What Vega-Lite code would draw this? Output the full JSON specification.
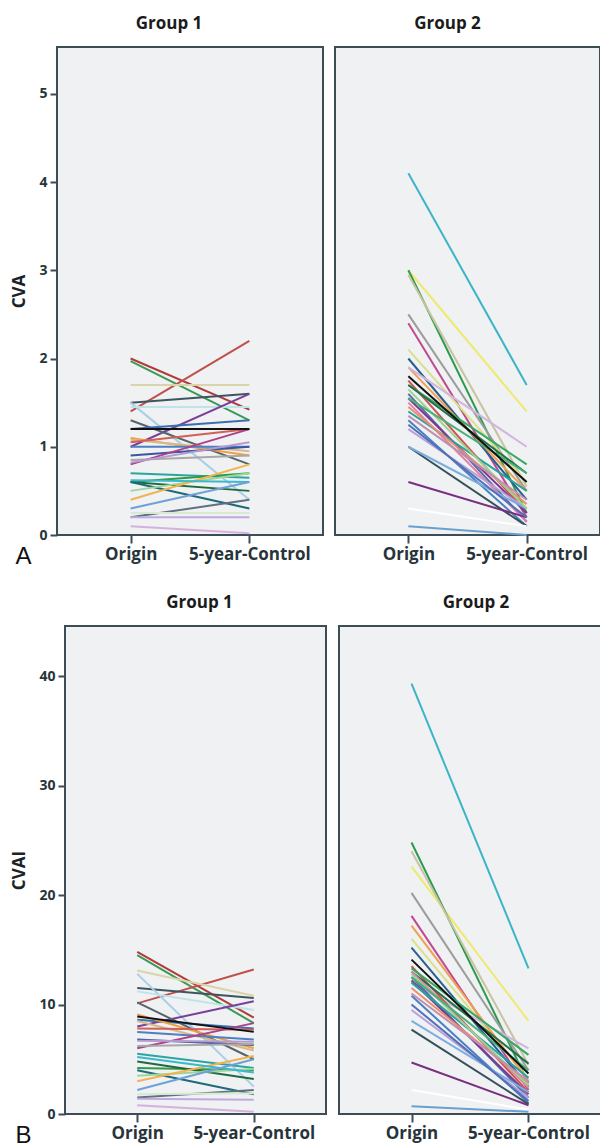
{
  "$schema": "https://vega.github.io/schema/vega-lite/v6.json",
  "background": "white",
  "padding": {"left": 0, "top": 14, "right": 0, "bottom": 0},
  "config": {
    "view": {"fill": "#eff1f2", "stroke": "#3d4d55", "strokeWidth": 2},
    "axis": {"grid": false, "domain": false, "tickColor": "#3d4d55", "tickWidth": 2, "labelColor": "#27343a", "labelFont": "Open Sans", "labelFontWeight": "bold", "titleFont": "Open Sans", "titleFontWeight": "bold", "titleColor": "#1b2328"},
    "axisX": {"labelFontSize": 17, "labelAngle": 0, "tickSize": 8, "labelPadding": 3},
    "axisY": {"labelFontSize": 14, "labelPadding": 3, "tickSize": 7, "titleFontSize": 17},
    "title": {"font": "Open Sans", "fontSize": 17, "fontWeight": "bold", "color": "#1b1b1b", "offset": 14, "baseline": "alphabetic", "frame": "group", "anchor": "middle"},
    "line": {"strokeWidth": 2}
  },
  "datasets": {
    "s": [
      {"g":1,"id":"a01","t":"Origin","cva":2.0,"cvai":14.8},{"g":1,"id":"a01","t":"5-year-Control","cva":1.42,"cvai":8.8},
      {"g":1,"id":"a02","t":"Origin","cva":1.97,"cvai":14.5},{"g":1,"id":"a02","t":"5-year-Control","cva":1.3,"cvai":8.3},
      {"g":1,"id":"a03","t":"Origin","cva":1.4,"cvai":10.1},{"g":1,"id":"a03","t":"5-year-Control","cva":2.2,"cvai":13.2},
      {"g":1,"id":"a04","t":"Origin","cva":1.7,"cvai":13.1},{"g":1,"id":"a04","t":"5-year-Control","cva":1.7,"cvai":10.8},
      {"g":1,"id":"a05","t":"Origin","cva":1.5,"cvai":11.5},{"g":1,"id":"a05","t":"5-year-Control","cva":1.6,"cvai":10.6},
      {"g":1,"id":"a06","t":"Origin","cva":1.5,"cvai":12.8},{"g":1,"id":"a06","t":"5-year-Control","cva":0.4,"cvai":2.5},
      {"g":1,"id":"a07","t":"Origin","cva":1.45,"cvai":11.2},{"g":1,"id":"a07","t":"5-year-Control","cva":1.45,"cvai":9.5},
      {"g":1,"id":"a08","t":"Origin","cva":1.0,"cvai":8.0},{"g":1,"id":"a08","t":"5-year-Control","cva":1.6,"cvai":10.3},
      {"g":1,"id":"a09","t":"Origin","cva":1.3,"cvai":10.2},{"g":1,"id":"a09","t":"5-year-Control","cva":0.8,"cvai":5.0},
      {"g":1,"id":"a11","t":"Origin","cva":1.2,"cvai":8.6},{"g":1,"id":"a11","t":"5-year-Control","cva":1.3,"cvai":7.8},
      {"g":1,"id":"a12","t":"Origin","cva":1.1,"cvai":9.1},{"g":1,"id":"a12","t":"5-year-Control","cva":0.9,"cvai":6.0},
      {"g":1,"id":"a13","t":"Origin","cva":1.08,"cvai":8.5},{"g":1,"id":"a13","t":"5-year-Control","cva":0.95,"cvai":5.8},
      {"g":1,"id":"a14","t":"Origin","cva":1.05,"cvai":7.8},{"g":1,"id":"a14","t":"5-year-Control","cva":1.2,"cvai":7.7},
      {"g":1,"id":"a15","t":"Origin","cva":1.0,"cvai":7.5},{"g":1,"id":"a15","t":"5-year-Control","cva":1.0,"cvai":6.8},
      {"g":1,"id":"a16","t":"Origin","cva":0.9,"cvai":6.8},{"g":1,"id":"a16","t":"5-year-Control","cva":1.0,"cvai":6.3},
      {"g":1,"id":"a17","t":"Origin","cva":0.8,"cvai":6.0},{"g":1,"id":"a17","t":"5-year-Control","cva":1.2,"cvai":8.3},
      {"g":1,"id":"a18","t":"Origin","cva":0.85,"cvai":6.2},{"g":1,"id":"a18","t":"5-year-Control","cva":0.9,"cvai":6.4},
      {"g":1,"id":"a19","t":"Origin","cva":0.82,"cvai":6.7},{"g":1,"id":"a19","t":"5-year-Control","cva":1.05,"cvai":6.6},
      {"g":1,"id":"a20","t":"Origin","cva":0.7,"cvai":5.5},{"g":1,"id":"a20","t":"5-year-Control","cva":0.65,"cvai":4.2},
      {"g":1,"id":"a21","t":"Origin","cva":0.6,"cvai":4.2},{"g":1,"id":"a21","t":"5-year-Control","cva":0.7,"cvai":4.0},
      {"g":1,"id":"a22","t":"Origin","cva":0.6,"cvai":4.8},{"g":1,"id":"a22","t":"5-year-Control","cva":0.5,"cvai":3.2},
      {"g":1,"id":"a23","t":"Origin","cva":0.6,"cvai":4.0},{"g":1,"id":"a23","t":"5-year-Control","cva":0.3,"cvai":1.8},
      {"g":1,"id":"a24","t":"Origin","cva":0.5,"cvai":3.5},{"g":1,"id":"a24","t":"5-year-Control","cva":0.7,"cvai":4.1},
      {"g":1,"id":"a25","t":"Origin","cva":0.4,"cvai":3.0},{"g":1,"id":"a25","t":"5-year-Control","cva":0.8,"cvai":5.3},
      {"g":1,"id":"a26","t":"Origin","cva":0.62,"cvai":5.2},{"g":1,"id":"a26","t":"5-year-Control","cva":0.6,"cvai":3.8},
      {"g":1,"id":"a27","t":"Origin","cva":0.3,"cvai":2.2},{"g":1,"id":"a27","t":"5-year-Control","cva":0.6,"cvai":5.0},
      {"g":1,"id":"a28","t":"Origin","cva":0.2,"cvai":1.5},{"g":1,"id":"a28","t":"5-year-Control","cva":0.4,"cvai":2.2},
      {"g":1,"id":"a29","t":"Origin","cva":0.2,"cvai":1.4},{"g":1,"id":"a29","t":"5-year-Control","cva":0.2,"cvai":1.3},
      {"g":1,"id":"a30","t":"Origin","cva":0.25,"cvai":1.8},{"g":1,"id":"a30","t":"5-year-Control","cva":0.25,"cvai":1.9},
      {"g":1,"id":"a31","t":"Origin","cva":0.1,"cvai":0.8},{"g":1,"id":"a31","t":"5-year-Control","cva":0.02,"cvai":0.2},
      {"g":1,"id":"a10","t":"Origin","cva":1.2,"cvai":8.9},{"g":1,"id":"a10","t":"5-year-Control","cva":1.2,"cvai":7.5},
      {"g":2,"id":"b01","t":"Origin","cva":4.1,"cvai":39.3},{"g":2,"id":"b01","t":"5-year-Control","cva":1.7,"cvai":13.3},
      {"g":2,"id":"b02","t":"Origin","cva":3.0,"cvai":22.6},{"g":2,"id":"b02","t":"5-year-Control","cva":1.4,"cvai":8.5},
      {"g":2,"id":"b03","t":"Origin","cva":3.0,"cvai":24.8},{"g":2,"id":"b03","t":"5-year-Control","cva":0.25,"cvai":2.8},
      {"g":2,"id":"b04","t":"Origin","cva":2.95,"cvai":24.0},{"g":2,"id":"b04","t":"5-year-Control","cva":0.55,"cvai":4.5},
      {"g":2,"id":"b05","t":"Origin","cva":2.5,"cvai":20.2},{"g":2,"id":"b05","t":"5-year-Control","cva":0.5,"cvai":4.0},
      {"g":2,"id":"b06","t":"Origin","cva":2.4,"cvai":18.1},{"g":2,"id":"b06","t":"5-year-Control","cva":0.2,"cvai":2.2},
      {"g":2,"id":"b07","t":"Origin","cva":2.1,"cvai":16.0},{"g":2,"id":"b07","t":"5-year-Control","cva":0.6,"cvai":3.2},
      {"g":2,"id":"b08","t":"Origin","cva":2.0,"cvai":15.2},{"g":2,"id":"b08","t":"5-year-Control","cva":0.4,"cvai":2.5},
      {"g":2,"id":"b09","t":"Origin","cva":1.9,"cvai":17.2},{"g":2,"id":"b09","t":"5-year-Control","cva":0.5,"cvai":3.0},
      {"g":2,"id":"b10","t":"Origin","cva":1.9,"cvai":12.0},{"g":2,"id":"b10","t":"5-year-Control","cva":1.0,"cvai":6.0},
      {"g":2,"id":"b12","t":"Origin","cva":1.75,"cvai":13.5},{"g":2,"id":"b12","t":"5-year-Control","cva":0.25,"cvai":2.0},
      {"g":2,"id":"b13","t":"Origin","cva":1.7,"cvai":13.3},{"g":2,"id":"b13","t":"5-year-Control","cva":0.8,"cvai":5.4},
      {"g":2,"id":"b14","t":"Origin","cva":1.7,"cvai":13.0},{"g":2,"id":"b14","t":"5-year-Control","cva":0.7,"cvai":4.6},
      {"g":2,"id":"b15","t":"Origin","cva":1.6,"cvai":12.5},{"g":2,"id":"b15","t":"5-year-Control","cva":0.15,"cvai":1.5},
      {"g":2,"id":"b16","t":"Origin","cva":1.55,"cvai":12.2},{"g":2,"id":"b16","t":"5-year-Control","cva":0.25,"cvai":1.8},
      {"g":2,"id":"b17","t":"Origin","cva":1.5,"cvai":13.0},{"g":2,"id":"b17","t":"5-year-Control","cva":0.15,"cvai":2.4},
      {"g":2,"id":"b18","t":"Origin","cva":1.4,"cvai":12.0},{"g":2,"id":"b18","t":"5-year-Control","cva":0.5,"cvai":3.3},
      {"g":2,"id":"b19","t":"Origin","cva":1.45,"cvai":11.5},{"g":2,"id":"b19","t":"5-year-Control","cva":0.35,"cvai":2.8},
      {"g":2,"id":"b20","t":"Origin","cva":1.3,"cvai":10.8},{"g":2,"id":"b20","t":"5-year-Control","cva":0.1,"cvai":1.0},
      {"g":2,"id":"b21","t":"Origin","cva":1.2,"cvai":9.5},{"g":2,"id":"b21","t":"5-year-Control","cva":0.3,"cvai":1.5},
      {"g":2,"id":"b22","t":"Origin","cva":1.0,"cvai":7.7},{"g":2,"id":"b22","t":"5-year-Control","cva":0.1,"cvai":0.9},
      {"g":2,"id":"b23","t":"Origin","cva":1.0,"cvai":8.5},{"g":2,"id":"b23","t":"5-year-Control","cva":0.3,"cvai":2.0},
      {"g":2,"id":"b24","t":"Origin","cva":0.6,"cvai":4.7},{"g":2,"id":"b24","t":"5-year-Control","cva":0.2,"cvai":0.8},
      {"g":2,"id":"b25","t":"Origin","cva":0.3,"cvai":2.2},{"g":2,"id":"b25","t":"5-year-Control","cva":0.1,"cvai":0.4},
      {"g":2,"id":"b26","t":"Origin","cva":0.1,"cvai":0.7},{"g":2,"id":"b26","t":"5-year-Control","cva":0.0,"cvai":0.2},
      {"g":2,"id":"b27","t":"Origin","cva":1.65,"cvai":12.8},{"g":2,"id":"b27","t":"5-year-Control","cva":0.3,"cvai":2.6},
      {"g":2,"id":"b28","t":"Origin","cva":1.35,"cvai":11.0},{"g":2,"id":"b28","t":"5-year-Control","cva":0.4,"cvai":3.0},
      {"g":2,"id":"b29","t":"Origin","cva":1.55,"cvai":12.5},{"g":2,"id":"b29","t":"5-year-Control","cva":0.7,"cvai":4.0},
      {"g":2,"id":"b30","t":"Origin","cva":1.25,"cvai":10.0},{"g":2,"id":"b30","t":"5-year-Control","cva":0.2,"cvai":1.2},
      {"g":2,"id":"b11","t":"Origin","cva":1.8,"cvai":14.1},{"g":2,"id":"b11","t":"5-year-Control","cva":0.6,"cvai":3.7}
    ]
  },
  "spacing": 24,
  "vconcat": [
    {
      "spacing": 0,
      "hconcat": [
        {"width": 9, "height": 1, "data": {"values": []}, "mark": "point", "view": {"fill": "white", "stroke": null}},
        {
          "spacing": 10,
          "hconcat": [
            {
              "width": 266, "height": 488,
              "data": {"name": "s"},
              "transform": [{"filter": "datum.g == 1"}],
              "title": {"text": "Group 1", "dx": -21},
              "mark": {"type": "line"},
              "encoding": {
                "x": {"field": "t", "type": "nominal", "scale": {"type": "point", "domain": ["Origin", "5-year-Control"], "padding": 0.62},
                      "axis": {"title": "A", "titleAnchor": "start", "titleAlign": "left", "titleX": -42, "titleY": 28, "titleBaseline": "alphabetic", "titleFontSize": 24, "titleFontWeight": "normal", "titleFont": "Liberation Sans", "titleColor": "#111111"}},
                "y": {"field": "cva", "type": "quantitative", "scale": {"domain": [0, 5.53], "nice": false},
                      "axis": {"title": "CVA", "values": [0, 1, 2, 3, 4, 5], "minExtent": 18, "maxExtent": 18, "titlePadding": 11}},
                "color": {"field": "id", "type": "nominal", "legend": null,
                          "scale": {"domain": ["a01","a02","a03","a04","a05","a06","a07","a08","a09","a10","a11","a12","a13","a14","a15","a16","a17","a18","a19","a20","a21","a22","a23","a24","a25","a26","a27","a28","a29","a30","a31","b01","b02","b03","b04","b05","b06","b07","b08","b09","b10","b11","b12","b13","b14","b15","b16","b17","b18","b19","b20","b21","b22","b23","b24","b25","b26","b27","b28","b29","b30"],
                                    "range": ["#b23a3a","#3a9a55","#c0504a","#d8d5a8","#3d5560","#a8cfe8","#bfe3ea","#7b3f9a","#5a6468","#111111","#3a6fb0","#f0a040","#d9b98a","#d0605a","#4d7fc4","#3b55a0","#b0408a","#a8a8a8","#b59ad0","#2aa5a0","#2f9a4a","#1f6b3c","#1d6a7a","#9fd49a","#f2b24e","#3ab8cc","#6fa0d8","#607080","#c0a8e0","#d5ead0","#d8b0e0","#3cb4c8","#eeea70","#2e9a50","#c8c4a0","#9c9c9c","#c04a90","#d8e08a","#27608f","#f0a050","#d2b4e0","#111111","#d05050","#38a860","#1f7048","#5a68a8","#7a3a90","#e080a8","#2aa0a0","#e89070","#4a80c0","#b8a0d8","#34505a","#7aaee0","#7a2e80","#ffffff","#6aa0d0","#9fd090","#c090b0","#48b078","#5070b8"]}}
              }
            },
            {
              "width": 265, "height": 488,
              "data": {"name": "s"},
              "transform": [{"filter": "datum.g == 2"}],
              "title": {"text": "Group 2", "dx": -20},
              "mark": {"type": "line"},
              "encoding": {
                "x": {"field": "t", "type": "nominal", "scale": {"type": "point", "domain": ["Origin", "5-year-Control"], "padding": 0.62}, "axis": {"title": null}},
                "y": {"field": "cva", "type": "quantitative", "scale": {"domain": [0, 5.53], "nice": false}, "axis": null},
                "color": {"field": "id", "type": "nominal", "legend": null,
                          "scale": {"domain": ["a01","a02","a03","a04","a05","a06","a07","a08","a09","a10","a11","a12","a13","a14","a15","a16","a17","a18","a19","a20","a21","a22","a23","a24","a25","a26","a27","a28","a29","a30","a31","b01","b02","b03","b04","b05","b06","b07","b08","b09","b10","b11","b12","b13","b14","b15","b16","b17","b18","b19","b20","b21","b22","b23","b24","b25","b26","b27","b28","b29","b30"],
                                    "range": ["#b23a3a","#3a9a55","#c0504a","#d8d5a8","#3d5560","#a8cfe8","#bfe3ea","#7b3f9a","#5a6468","#111111","#3a6fb0","#f0a040","#d9b98a","#d0605a","#4d7fc4","#3b55a0","#b0408a","#a8a8a8","#b59ad0","#2aa5a0","#2f9a4a","#1f6b3c","#1d6a7a","#9fd49a","#f2b24e","#3ab8cc","#6fa0d8","#607080","#c0a8e0","#d5ead0","#d8b0e0","#3cb4c8","#eeea70","#2e9a50","#c8c4a0","#9c9c9c","#c04a90","#d8e08a","#27608f","#f0a050","#d2b4e0","#111111","#d05050","#38a860","#1f7048","#5a68a8","#7a3a90","#e080a8","#2aa0a0","#e89070","#4a80c0","#b8a0d8","#34505a","#7aaee0","#7a2e80","#ffffff","#6aa0d0","#9fd090","#c090b0","#48b078","#5070b8"]}}
              }
            }
          ]
        }
      ]
    },
    {
      "spacing": 0,
      "hconcat": [
        {"width": 9, "height": 1, "data": {"values": []}, "mark": "point", "view": {"fill": "white", "stroke": null}},
        {
          "spacing": 11,
          "hconcat": [
            {
              "width": 261, "height": 488,
              "data": {"name": "s"},
              "transform": [{"filter": "datum.g == 1"}],
              "title": {"text": "Group 1", "dx": 4},
              "mark": {"type": "line"},
              "encoding": {
                "x": {"field": "t", "type": "nominal", "scale": {"type": "point", "domain": ["Origin", "5-year-Control"], "padding": 0.62},
                      "axis": {"title": "B", "titleAnchor": "start", "titleAlign": "left", "titleX": -50, "titleY": 28, "titleBaseline": "alphabetic", "titleFontSize": 24, "titleFontWeight": "normal", "titleFont": "Liberation Sans", "titleColor": "#111111"}},
                "y": {"field": "cvai", "type": "quantitative", "scale": {"domain": [0, 44.57], "nice": false},
                      "axis": {"title": "CVAI", "values": [0, 10, 20, 30, 40], "minExtent": 26, "maxExtent": 26, "titlePadding": 11}},
                "color": {"field": "id", "type": "nominal", "legend": null,
                          "scale": {"domain": ["a01","a02","a03","a04","a05","a06","a07","a08","a09","a10","a11","a12","a13","a14","a15","a16","a17","a18","a19","a20","a21","a22","a23","a24","a25","a26","a27","a28","a29","a30","a31","b01","b02","b03","b04","b05","b06","b07","b08","b09","b10","b11","b12","b13","b14","b15","b16","b17","b18","b19","b20","b21","b22","b23","b24","b25","b26","b27","b28","b29","b30"],
                                    "range": ["#b23a3a","#3a9a55","#c0504a","#d8d5a8","#3d5560","#a8cfe8","#bfe3ea","#7b3f9a","#5a6468","#111111","#3a6fb0","#f0a040","#d9b98a","#d0605a","#4d7fc4","#3b55a0","#b0408a","#a8a8a8","#b59ad0","#2aa5a0","#2f9a4a","#1f6b3c","#1d6a7a","#9fd49a","#f2b24e","#3ab8cc","#6fa0d8","#607080","#c0a8e0","#d5ead0","#d8b0e0","#3cb4c8","#eeea70","#2e9a50","#c8c4a0","#9c9c9c","#c04a90","#d8e08a","#27608f","#f0a050","#d2b4e0","#111111","#d05050","#38a860","#1f7048","#5a68a8","#7a3a90","#e080a8","#2aa0a0","#e89070","#4a80c0","#b8a0d8","#34505a","#7aaee0","#7a2e80","#ffffff","#6aa0d0","#9fd090","#c090b0","#48b078","#5070b8"]}}
              }
            },
            {
              "width": 262, "height": 488,
              "data": {"name": "s"},
              "transform": [{"filter": "datum.g == 2"}],
              "title": {"text": "Group 2", "dx": 6},
              "mark": {"type": "line"},
              "encoding": {
                "x": {"field": "t", "type": "nominal", "scale": {"type": "point", "domain": ["Origin", "5-year-Control"], "padding": 0.62}, "axis": {"title": null}},
                "y": {"field": "cvai", "type": "quantitative", "scale": {"domain": [0, 44.57], "nice": false}, "axis": null},
                "color": {"field": "id", "type": "nominal", "legend": null,
                          "scale": {"domain": ["a01","a02","a03","a04","a05","a06","a07","a08","a09","a10","a11","a12","a13","a14","a15","a16","a17","a18","a19","a20","a21","a22","a23","a24","a25","a26","a27","a28","a29","a30","a31","b01","b02","b03","b04","b05","b06","b07","b08","b09","b10","b11","b12","b13","b14","b15","b16","b17","b18","b19","b20","b21","b22","b23","b24","b25","b26","b27","b28","b29","b30"],
                                    "range": ["#b23a3a","#3a9a55","#c0504a","#d8d5a8","#3d5560","#a8cfe8","#bfe3ea","#7b3f9a","#5a6468","#111111","#3a6fb0","#f0a040","#d9b98a","#d0605a","#4d7fc4","#3b55a0","#b0408a","#a8a8a8","#b59ad0","#2aa5a0","#2f9a4a","#1f6b3c","#1d6a7a","#9fd49a","#f2b24e","#3ab8cc","#6fa0d8","#607080","#c0a8e0","#d5ead0","#d8b0e0","#3cb4c8","#eeea70","#2e9a50","#c8c4a0","#9c9c9c","#c04a90","#d8e08a","#27608f","#f0a050","#d2b4e0","#111111","#d05050","#38a860","#1f7048","#5a68a8","#7a3a90","#e080a8","#2aa0a0","#e89070","#4a80c0","#b8a0d8","#34505a","#7aaee0","#7a2e80","#ffffff","#6aa0d0","#9fd090","#c090b0","#48b078","#5070b8"]}}
              }
            }
          ]
        }
      ]
    }
  ]
}
